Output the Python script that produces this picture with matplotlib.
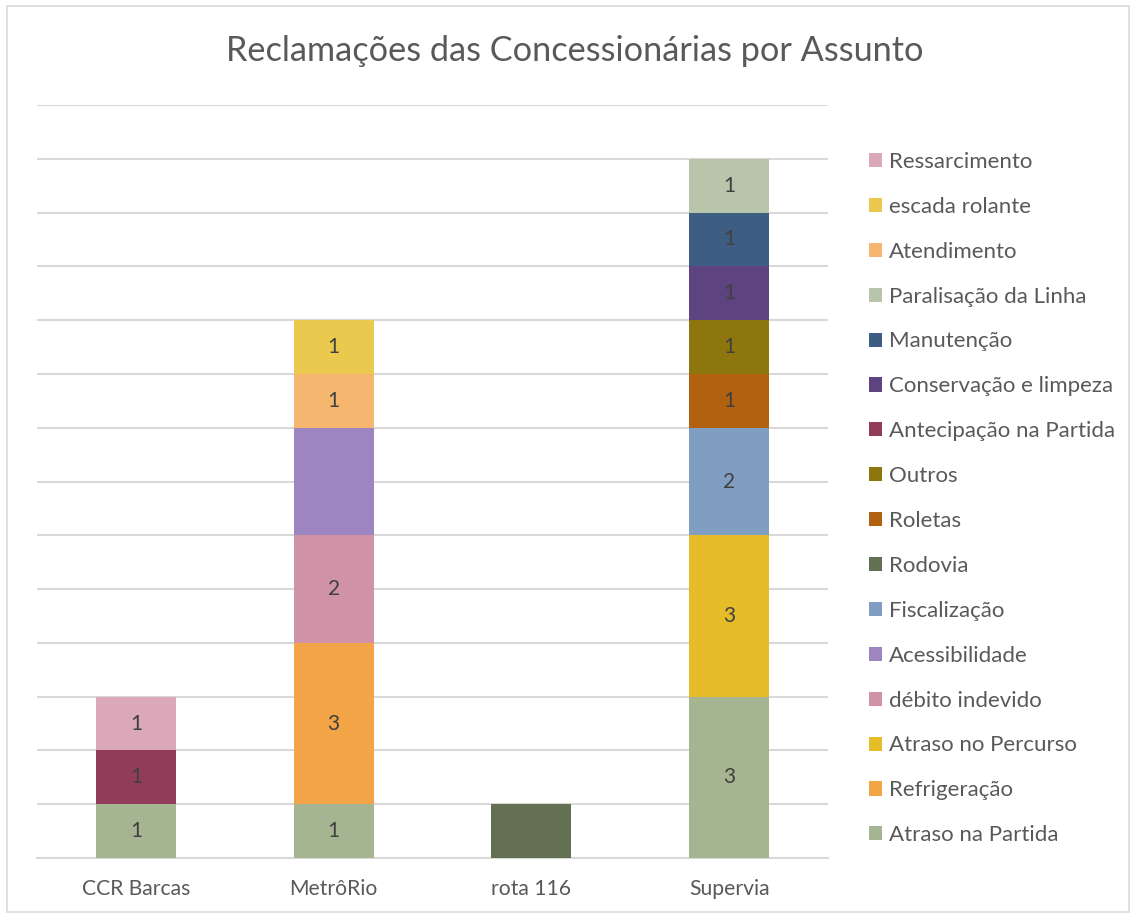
import numpy as np
import matplotlib
matplotlib.use("Agg")
import matplotlib.pyplot as plt
from matplotlib.patches import Patch, Rectangle

plt.rcParams['font.family'] = ['Lato', 'DejaVu Sans']

# data
categories = ["CCR Barcas", "MetrôRio", "rota 116", "Supervia"]
subjects = [
    "Atraso na Partida", "Refrigeração", "Atraso no Percurso", "débito indevido",
    "Acessibilidade", "Fiscalização", "Rodovia", "Roletas", "Outros",
    "Antecipação na Partida", "Conservação e limpeza", "Manutenção",
    "Paralisação da Linha", "Atendimento", "escada rolante", "Ressarcimento",
]
# counts per subject: [CCR Barcas, MetrôRio, rota 116, Supervia]
counts = {
    "Atraso na Partida":      [1, 1, 0, 3],
    "Refrigeração":           [0, 3, 0, 0],
    "Atraso no Percurso":     [0, 0, 0, 3],
    "débito indevido":        [0, 2, 0, 0],
    "Acessibilidade":         [0, 2, 0, 0],
    "Fiscalização":           [0, 0, 0, 2],
    "Rodovia":                [0, 0, 1, 0],
    "Roletas":                [0, 0, 0, 1],
    "Outros":                 [0, 0, 0, 1],
    "Antecipação na Partida": [1, 0, 0, 0],
    "Conservação e limpeza":  [0, 0, 0, 1],
    "Manutenção":             [0, 0, 0, 1],
    "Paralisação da Linha":   [0, 0, 0, 1],
    "Atendimento":            [0, 1, 0, 0],
    "escada rolante":         [0, 1, 0, 0],
    "Ressarcimento":          [1, 0, 0, 0],
}
# series whose data labels are not shown in the original
no_labels = ["Acessibilidade", "Rodovia"]

colors = {
    "Atraso na Partida": "#A5B592", "Refrigeração": "#F3A447",
    "Atraso no Percurso": "#E7BC29", "débito indevido": "#D092A7",
    "Acessibilidade": "#9C85C0", "Fiscalização": "#809EC2",
    "Rodovia": "#637052", "Roletas": "#B1610F", "Outros": "#8E760F",
    "Antecipação na Partida": "#913D5A", "Conservação e limpeza": "#5D4380",
    "Manutenção": "#3D5D83", "Paralisação da Linha": "#B8C5AA",
    "Atendimento": "#F5B770", "escada rolante": "#EBC94F",
    "Ressarcimento": "#DAA8B8",
}

W, H = 1133, 917
fig = plt.figure(figsize=(W / 100, H / 100), dpi=100)
fig.patches.append(Rectangle((7 / W, 1 - 912 / H), 1122 / W, 906 / H,
                             transform=fig.transFigure, fill=False,
                             edgecolor="#D9D9D9", linewidth=1.2))

ax = fig.add_axes([37 / W, 1 - 858 / H, 791 / W, (858 - 105) / H])
x = np.arange(len(categories))
bottom = np.zeros(len(categories))
for s in subjects:
    vals = np.array(counts[s], dtype=float)
    bars = ax.bar(x, vals, 0.405, bottom=bottom, color=colors[s], zorder=3)
    if s not in no_labels:
        for rect, v in zip(bars, vals):
            if v > 0:
                ax.text(rect.get_x() + rect.get_width() / 2,
                        rect.get_y() + v / 2, f"{int(v)}",
                        ha="center", va="center", fontsize=15,
                        color="#404040", zorder=4)
    bottom += vals

ax.set_xlim(-0.5, 3.5)
ax.set_ylim(0, 14)
ax.set_yticks(np.arange(0, 15))
ax.yaxis.grid(True, color="#D9D9D9", linewidth=1.5, zorder=0)
ax.tick_params(axis="y", left=False, labelleft=False)
ax.tick_params(axis="x", length=0, pad=15, labelsize=15.2, labelcolor="#595959")
ax.set_xticks(x)
ax.set_xticklabels(categories)
for sp in ["top", "right", "left"]:
    ax.spines[sp].set_visible(False)
ax.spines["bottom"].set_color("#D9D9D9")
ax.spines["bottom"].set_linewidth(1.5)

fig.text(575 / W, 1 - 51 / H, "Reclamações das Concessionárias por Assunto",
         ha="center", va="center", fontsize=24.7, color="#595959")

handles = [Patch(facecolor=colors[s], edgecolor="none") for s in subjects][::-1]
fig.legend(handles, subjects[::-1], loc="upper left",
           bbox_to_anchor=(860 / W, 1 - 143 / H), frameon=False,
           fontsize=16, labelcolor="#595959", handlelength=0.6,
           handleheight=0.6, handletextpad=0.3, labelspacing=1.12,
           borderaxespad=0)

fig.savefig("out.png", dpi=100)
